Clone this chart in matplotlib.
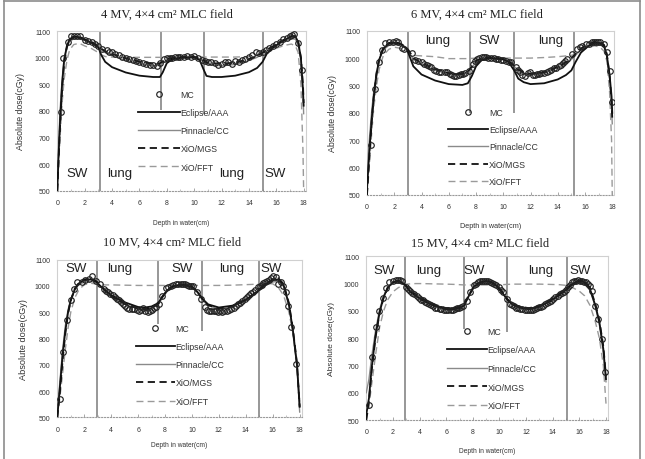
import matplotlib
matplotlib.use("Agg")
import matplotlib.pyplot as plt
from matplotlib.lines import Line2D
from matplotlib.ticker import MultipleLocator

# ---------------- data ----------------
titles = ["4 MV, 4×4 cm² MLC field", "6 MV, 4×4 cm² MLC field",
          "10 MV, 4×4 cm² MLC field", "15 MV, 4×4 cm² MLC field"]
series_labels = ["MC", "Eclipse/AAA", "Pinnacle/CC", "XiO/MGS", "XiO/FFT"]
x_ticks = [0, 2, 4, 6, 8, 10, 12, 14, 16, 18]
y_ticks = [500, 600, 700, 800, 900, 1000, 1100]

# 4 MV
d4 = [0, 0.1, 0.2, 0.35, 0.5, 0.7, 0.9, 1.2, 1.6, 2.0, 2.5, 3.0, 3.2, 3.5, 4.0, 5.0, 6.0, 7.0, 7.5, 7.7,
      8.0, 8.4, 9.0, 10.0, 10.4, 10.7, 10.9, 11.3, 12.0, 13.0, 14.0, 14.6, 15.0, 15.3, 15.7, 16.2, 16.7,
      17.1, 17.4, 17.6, 17.8, 17.95, 18.0]
aaa4 = [500, 640, 760, 900, 990, 1045, 1070, 1080, 1078, 1068, 1057, 1040, 1012, 985, 965, 945, 933, 928,
        928, 945, 980, 995, 1000, 1002, 992, 955, 932, 928, 928, 933, 946, 962, 985, 1015, 1035, 1055, 1070,
        1080, 1080, 1060, 1000, 880, 820]
cc4 = [520, 680, 800, 920, 1000, 1040, 1062, 1072, 1072, 1065, 1055, 1040, 1030, 1020, 1008, 990, 978, 970,
       972, 980, 992, 998, 1000, 1002, 996, 985, 978, 974, 970, 975, 990, 1002, 1015, 1025, 1038, 1052, 1065,
       1072, 1070, 1050, 990, 870, 790]
mgs4 = [500, 620, 740, 880, 980, 1040, 1068, 1080, 1080, 1070, 1060, 1045, 1035, 1025, 1015, 998, 985, 978,
        980, 986, 995, 1000, 1003, 1004, 999, 990, 984, 980, 978, 982, 995, 1008, 1020, 1030, 1042, 1058, 1072,
        1082, 1082, 1062, 1000, 900, 830]
fft4 = [500, 600, 700, 830, 920, 990, 1030, 1050, 1055, 1045, 1035, 1020, 1012, 1005, 1003, 1002, 1002, 1002,
        1002, 1003, 1004, 1005, 1005, 1005, 1004, 1003, 1003, 1003, 1003, 1003, 1005, 1008, 1012, 1020, 1030,
        1040, 1048, 1052, 1045, 1020, 900, 650, 500]
mc4_x = [0.27, 0.43, 0.75, 1.0, 1.2, 1.45, 1.64, 2.0, 2.25, 2.5, 2.75, 3.0, 3.3, 3.6, 3.8, 4.0, 4.25, 4.5,
         4.75, 5.0, 5.25, 5.5, 5.75, 6.0, 6.25, 6.5, 6.75, 7.0, 7.25, 7.5, 7.8, 8.0, 8.2, 8.4, 8.6, 8.8, 9.0,
         9.25, 9.5, 9.75, 10.0, 10.3, 10.6, 10.8, 11.0, 11.25, 11.5, 11.75, 12.0, 12.25, 12.5, 12.75, 13.0,
         13.25, 13.5, 13.75, 14.0, 14.25, 14.5, 14.75, 15.0, 15.25, 15.5, 15.75, 16.0, 16.25, 16.5, 16.75,
         17.0, 17.15, 17.3, 17.6, 17.9]
mc4_y = [795, 998, 1060, 1084, 1084, 1084, 1081, 1069, 1065, 1059, 1052, 1046, 1033, 1030, 1022, 1021, 1015,
         1011, 1003, 1001, 995, 993, 987, 983, 980, 977, 975, 973, 970, 980, 996, 998, 1001, 1000, 1002, 1003,
         1002, 1004, 1006, 1003, 1006, 998, 992, 988, 986, 984, 980, 975, 976, 985, 983, 978, 990, 985, 992,
         995, 1002, 1010, 1021, 1018, 1023, 1030, 1036, 1045, 1052, 1060, 1071, 1076, 1084, 1087, 1089, 1055,
         956]

# 6 MV
d6 = [0, 0.1, 0.2, 0.35, 0.5, 0.7, 0.9, 1.2, 1.6, 2.0, 2.5, 2.9, 3.1, 3.4, 4.0, 5.0, 6.0, 7.0, 7.4, 7.7, 8.0,
      8.4, 9.0, 10.0, 10.4, 10.8, 11.1, 11.5, 12.0, 13.0, 14.0, 14.6, 15.0, 15.3, 15.7, 16.2, 16.7, 17.1, 17.4,
      17.6, 17.8, 17.95, 18.0]
aaa6 = [520, 600, 680, 780, 860, 940, 995, 1035, 1052, 1056, 1050, 1035, 1010, 970, 940, 918, 905, 902, 908,
        935, 970, 992, 1000, 995, 985, 955, 925, 912, 905, 908, 922, 938, 955, 985, 1020, 1042, 1056, 1055,
        1045, 1010, 940, 860, 800]
cc6 = [560, 650, 720, 810, 880, 950, 995, 1030, 1046, 1050, 1045, 1035, 1020, 995, 975, 955, 942, 940, 948,
       965, 985, 997, 1000, 995, 988, 970, 955, 945, 940, 945, 965, 980, 995, 1010, 1030, 1045, 1052, 1050,
       1040, 1010, 930, 820, 760]
mgs6 = [500, 580, 660, 770, 860, 945, 1000, 1038, 1055, 1060, 1052, 1038, 1025, 1000, 982, 960, 945, 942, 950,
        970, 990, 1000, 1003, 997, 990, 972, 958, 948, 943, 948, 968, 985, 1000, 1015, 1035, 1050, 1060, 1058,
        1048, 1015, 940, 840, 780]
fft6 = [500, 560, 630, 730, 820, 900, 960, 1010, 1032, 1040, 1035, 1025, 1018, 1010, 1008, 1005, 998, 998,
        998, 999, 1000, 1000, 1000, 1000, 1000, 1000, 1000, 1000, 1000, 1002, 1005, 1008, 1010, 1015, 1025,
        1038, 1045, 1040, 1025, 990, 880, 700, 500]
mc6_x = [0.29, 0.6, 0.85, 1.09, 1.33, 1.58, 1.94, 2.1, 2.26, 2.55, 2.75, 3.28, 3.5, 3.76, 4.0, 4.2, 4.37,
         4.55, 4.7, 4.9, 5.1, 5.3, 5.46, 5.7, 5.9, 6.1, 6.24, 6.4, 6.55, 6.75, 6.9, 7.05, 7.2, 7.45, 7.77, 7.95,
         8.08, 8.25, 8.42, 8.6, 8.74, 8.9, 9.1, 9.3, 9.47, 9.65, 9.83, 10.0, 10.2, 10.4, 10.56, 10.9, 11.1,
         11.24, 11.4, 11.58, 11.8, 11.97, 12.15, 12.3, 12.45, 12.6, 12.8, 12.99, 13.2, 13.35, 13.5, 13.7, 13.9,
         14.1, 14.25, 14.4, 14.55, 14.7, 15.05, 15.4, 15.6, 15.8, 16.1, 16.3, 16.5, 16.65, 16.8, 16.95, 17.1,
         17.4, 17.6, 17.8, 18.0]
mc6_y = [684, 887, 984, 1031, 1054, 1060, 1060, 1062, 1057, 1035, 1033, 1017, 994, 990, 984, 978, 976, 970,
         966, 958, 954, 950, 950, 948, 948, 942, 938, 935, 936, 940, 942, 943, 945, 954, 978, 990, 997, 1000,
         1004, 1003, 1005, 1002, 1001, 1002, 997, 995, 993, 992, 990, 985, 984, 966, 955, 950, 940, 933, 945,
         948, 940, 938, 942, 942, 945, 945, 950, 954, 958, 962, 965, 972, 975, 981, 988, 997, 1015, 1033, 1040,
         1045, 1053, 1052, 1057, 1060, 1060, 1058, 1057, 1051, 1021, 954, 841]

# 10 MV
d10 = [0, 0.2, 0.4, 0.6, 0.8, 1.0, 1.3, 1.6, 2.0, 2.5, 2.9, 3.2, 3.6, 4.0, 5.0, 6.0, 6.5, 7.0, 7.5, 7.8, 8.2,
       8.6, 9.0, 9.5, 10.0, 10.4, 10.8, 11.2, 12.0, 13.0, 14.0, 14.5, 15.0, 15.5, 16.0, 16.4, 16.8, 17.2, 17.5,
       17.8, 18.0]
aaa10 = [500, 620, 740, 830, 900, 945, 988, 1010, 1022, 1025, 1015, 1000, 982, 965, 938, 920, 918, 922, 935,
         960, 985, 998, 1004, 1004, 996, 978, 950, 930, 918, 925, 948, 965, 985, 1008, 1022, 1025, 1005, 930,
         830, 700, 540]
cc10 = [520, 640, 760, 850, 910, 950, 985, 1005, 1015, 1018, 1010, 998, 978, 960, 930, 912, 910, 915, 928,
        955, 982, 996, 1002, 1002, 994, 975, 945, 925, 912, 920, 945, 962, 982, 1003, 1015, 1018, 998, 925, 820,
        690, 520]
mgs10 = [500, 600, 720, 820, 895, 945, 990, 1012, 1025, 1028, 1018, 1002, 980, 962, 932, 914, 912, 918, 932,
         958, 986, 1000, 1006, 1006, 998, 978, 948, 927, 914, 922, 947, 966, 988, 1010, 1026, 1030, 1008, 935,
         835, 705, 540]
fft10 = [500, 580, 670, 760, 840, 900, 955, 985, 1005, 1010, 1008, 1005, 1004, 1004, 1003, 1002, 1002, 1002,
         1002, 1002, 1002, 1002, 1002, 1002, 1002, 1002, 1002, 1002, 1002, 1003, 1005, 1006, 1008, 1010, 1008,
         995, 965, 900, 820, 700, 560]
mc10_x = [0.2, 0.44, 0.69, 1.0, 1.23, 1.5, 1.8, 2.04, 2.36, 2.6, 2.9, 3.14, 3.44, 3.6, 3.76, 3.95, 4.13, 4.3,
          4.42, 4.6, 4.76, 4.9, 5.06, 5.2, 5.35, 5.55, 5.72, 5.9, 6.09, 6.25, 6.38, 6.55, 6.7, 6.85, 7.02, 7.15,
          7.32, 7.56, 7.8, 8.05, 8.25, 8.42, 8.6, 8.79, 9.0, 9.16, 9.3, 9.48, 9.6, 9.77, 9.93, 10.1, 10.4, 10.7,
          11.0, 11.15, 11.3, 11.45, 11.6, 11.75, 11.93, 12.1, 12.23, 12.4, 12.6, 12.75, 12.9, 13.1, 13.26, 13.4,
          13.58, 13.75, 13.95, 14.1, 14.24, 14.4, 14.56, 14.7, 14.88, 15.05, 15.18, 15.3, 15.42, 15.6, 15.72,
          15.9, 16.04, 16.23, 16.4, 16.6, 16.77, 16.97, 17.14, 17.34, 17.7]
mc10_y = [570, 747, 872, 947, 988, 1014, 1014, 1023, 1026, 1039, 1020, 1007, 988, 982, 976, 970, 966, 958,
          950, 945, 938, 932, 925, 918, 912, 912, 912, 910, 906, 908, 915, 905, 902, 905, 910, 915, 919, 931,
          963, 991, 995, 1001, 1005, 1007, 1006, 1007, 1008, 1007, 1004, 1001, 1000, 999, 976, 950, 919, 910,
          906, 905, 906, 903, 902, 905, 900, 903, 906, 908, 912, 918, 925, 930, 935, 942, 950, 958, 966, 972,
          978, 985, 995, 1000, 1004, 1010, 1014, 1020, 1024, 1030, 1039, 1033, 1007, 1014, 1001, 978, 925, 845,
          703]

# 15 MV
d15 = [0, 0.2, 0.4, 0.7, 1.0, 1.3, 1.6, 2.0, 2.4, 2.8, 3.0, 3.3, 3.7, 4.2, 5.0, 6.0, 6.6, 7.0, 7.35, 7.7, 8.1,
       8.6, 9.0, 9.4, 9.8, 10.2, 10.6, 11.0, 11.5, 12.2, 13.0, 13.8, 14.5, 15.1, 15.5, 16.0, 16.4, 16.8, 17.2,
       17.5, 17.8, 18.0]
aaa15 = [520, 580, 690, 810, 895, 950, 985, 1005, 1012, 1000, 990, 970, 955, 940, 920, 906, 906, 910, 920,
         955, 990, 1005, 1010, 1005, 992, 968, 940, 922, 912, 906, 915, 935, 958, 980, 1000, 1010, 1005, 980,
         920, 860, 760, 650]
cc15 = [600, 650, 730, 830, 905, 955, 985, 1002, 1008, 998, 988, 972, 958, 943, 922, 908, 908, 912, 922, 955,
        988, 1003, 1007, 1003, 990, 966, 940, 924, 914, 908, 917, 937, 960, 982, 998, 1005, 1000, 975, 915, 850,
        750, 640]
mgs15 = [500, 570, 680, 805, 892, 948, 983, 1003, 1010, 1000, 992, 974, 960, 946, 925, 910, 910, 914, 924,
         958, 992, 1006, 1010, 1006, 994, 970, 943, 926, 916, 910, 918, 938, 962, 985, 1002, 1012, 1008, 985,
         925, 865, 770, 660]
fft15 = [500, 550, 630, 740, 840, 900, 940, 970, 985, 995, 998, 999, 1000, 1000, 999, 998, 997, 996, 995, 995,
         995, 995, 995, 995, 995, 996, 997, 998, 998, 998, 998, 997, 996, 993, 985, 972, 955, 920, 860, 800,
         700, 560]
mc15_x = [0.17, 0.42, 0.72, 0.97, 1.22, 1.46, 1.74, 2.04, 2.2, 2.36, 2.5, 2.66, 2.95, 3.15, 3.3, 3.45, 3.6,
          3.77, 3.95, 4.1, 4.25, 4.39, 4.55, 4.72, 4.85, 5.0, 5.17, 5.34, 5.5, 5.64, 5.82, 6.0, 6.17, 6.33, 6.48,
          6.63, 6.78, 6.93, 7.1, 7.25, 7.55, 7.8, 8.07, 8.22, 8.37, 8.52, 8.66, 8.82, 8.99, 9.15, 9.31, 9.46,
          9.61, 9.77, 9.93, 10.08, 10.23, 10.53, 10.8, 10.95, 11.1, 11.25, 11.4, 11.56, 11.72, 11.88, 12.04,
          12.19, 12.34, 12.5, 12.64, 12.8, 12.96, 13.12, 13.28, 13.43, 13.58, 13.73, 13.88, 14.04, 14.2, 14.36,
          14.52, 14.67, 14.82, 14.97, 15.12, 15.28, 15.44, 15.6, 15.76, 15.91, 16.06, 16.21, 16.36, 16.52,
          16.68, 16.8, 16.93, 17.18, 17.43, 17.68, 17.92]
mc15_y = [555, 732, 840, 901, 946, 983, 1005, 1011, 1012, 1014, 1012, 1011, 986, 980, 972, 966, 960, 956,
          948, 941, 938, 934, 930, 925, 920, 917, 912, 909, 907, 907, 905, 904, 903, 904, 905, 907, 909, 911,
          915, 919, 937, 968, 995, 1000, 1005, 1008, 1011, 1010, 1011, 1008, 1005, 1002, 999, 993, 986, 978,
          968, 944, 925, 920, 917, 912, 909, 908, 907, 905, 904, 904, 904, 905, 907, 910, 913, 916, 919, 924,
          929, 933, 937, 944, 950, 956, 962, 965, 968, 978, 986, 996, 1005, 1008, 1011, 1012, 1011, 1009, 1007,
          1004, 999, 990, 974, 919, 870, 797, 675]

# slab interfaces (cm) and lower end of each interface line (cGy)
iface4, iface4_bot = [3.1, 7.6, 10.7, 15.0], [500, 805, 790, 500]
iface6, iface6_bot = [3.0, 7.55, 10.8, 15.2], [500, 800, 800, 500]
iface10, iface10_bot = [2.95, 7.5, 10.75, 15.0], [500, 855, 830, 500]
iface15, iface15_bot = [2.9, 7.35, 10.55, 15.05], [500, 834, 824, 500]

regions4 = ["SW", "lung", "lung", "SW"]
regions4_x, regions4_y = [1.45, 4.55, 12.75, 15.9], [567, 567, 567, 567]
regions6 = ["lung", "SW", "lung"]
regions6_x, regions6_y = [5.2, 8.97, 13.45], [1067, 1067, 1067]
regions10 = ["SW", "lung", "SW", "lung", "SW"]
regions10_x, regions10_y = [1.43, 4.67, 9.28, 12.96, 15.9], [1067, 1067, 1067, 1067, 1067]
regions15 = ["SW", "lung", "SW", "lung", "SW"]
regions15_x, regions15_y = [1.37, 4.69, 8.12, 13.13, 16.06], [1051, 1051, 1051, 1051, 1051]

# ---------------- layout (pixels of a 645x460 canvas) ----------------
W, H = 645, 460
panels = [
    dict(box=(57.3, 32.3, 305.7, 191.7), title_xy=(166.7, 14.5), data=(d4, aaa4, cc4, mgs4, fft4, mc4_x, mc4_y),
         iface=(iface4, iface4_bot), reg=(regions4, regions4_x, regions4_y), leg=(5.87, 726, 1.05, 4.8),
         ylab=-32, xlab=-28, xfs=4.8, yfs=6.3),
    dict(box=(367.0, 31.7, 614.3, 196.0), title_xy=(477.0, 14.5), data=(d6, aaa6, cc6, mgs6, fft6, mc6_x, mc6_y),
         iface=(iface6, iface6_bot), reg=(regions6, regions6_x, regions6_y), leg=(5.95, 676, 0.95, 4.6),
         ylab=-30, xlab=-27, xfs=5.2, yfs=6.3),
    dict(box=(57.3, 260.7, 301.7, 418.3), title_xy=(171.7, 242.7), data=(d10, aaa10, cc10, mgs10, fft10, mc10_x, mc10_y),
         iface=(iface10, iface10_bot), reg=(regions10, regions10_x, regions10_y), leg=(5.85, 700, 1.05, 4.4),
         ylab=-29, xlab=-24, xfs=4.8, yfs=6.6),
    dict(box=(366.3, 257.3, 608.0, 421.0), title_xy=(480.3, 243.3), data=(d15, aaa15, cc15, mgs15, fft15, mc15_x, mc15_y),
         iface=(iface15, iface15_bot), reg=(regions15, regions15_x, regions15_y), leg=(6.08, 689, 1.1, 4.5),
         ylab=-31, xlab=-27, xfs=4.8, yfs=6.0),
]

plt.rcParams['font.family'] = ['Liberation Sans', 'DejaVu Sans']
fig = plt.figure(figsize=(W / 100, H / 100), dpi=100)
fig.patch.set_facecolor('white')

for i, p in enumerate(panels):
    x0, y0, x1, y1 = p['box']
    ax = fig.add_axes([x0 / W, 1 - y1 / H, (x1 - x0) / W, (y1 - y0) / H])
    d, aaa, cc, mgs, fft, mcx, mcy = p['data']
    h_mc, = ax.plot(mcx, mcy, ls='none', marker='o', ms=4.0, mfc='none', mec='#222222', mew=0.85, label=series_labels[0], zorder=5)
    h_aaa, = ax.plot(d, aaa, color='#111111', lw=1.3, label=series_labels[1], zorder=4)
    h_cc, = ax.plot(d, cc, color='#8a8a8a', lw=1.0, label=series_labels[2], zorder=3)
    h_mgs, = ax.plot(d, mgs, color='#111111', lw=1.3, ls=(0, (4, 2.5)), label=series_labels[3], zorder=4)
    h_fft, = ax.plot(d, fft, color='#9a9a9a', lw=1.0, ls=(0, (5, 3)), label=series_labels[4], zorder=3)

    ifx, ifb = p['iface']
    ax.vlines(ifx, ifb, 1100, colors='#7a7a7a', lw=1.1, zorder=2)

    names, rx, ry = p['reg']
    for n, xx, yy in zip(names, rx, ry):
        ax.text(xx, yy, n, ha='center', va='center', fontsize=9.5, color='#222222')

    lx, ly, lsp, hl = p['leg']
    ax.legend(handles=[h_mc, h_aaa, h_cc, h_mgs, h_fft], loc='center left', bbox_to_anchor=(lx, ly),
              bbox_transform=ax.transData, frameon=False, fontsize=6.3, labelspacing=lsp,
              handlelength=hl, handletextpad=0.1, borderpad=0, borderaxespad=0, labelcolor='#333333')

    ax.set_xlim(0, 18.15)
    ax.set_ylim(500, 1100)
    ax.set_xticks(x_ticks)
    ax.set_yticks(y_ticks)
    ax.xaxis.set_minor_locator(MultipleLocator(1))
    ax.tick_params(axis='both', which='major', labelsize=5, labelcolor='#333333', color='#999999',
                   direction='in', length=2, width=0.6)
    ax.tick_params(axis='x', which='major', pad=6)
    ax.tick_params(axis='y', which='major', pad=5, length=0)
    ax.tick_params(axis='x', which='minor', direction='in', length=1.2, color='#aaaaaa', width=0.5)
    for s in ['top', 'right', 'left']:
        ax.spines[s].set_color('#d0d0d0')
        ax.spines[s].set_linewidth(0.8)
    ax.spines['bottom'].set_color('#9a9a9a')
    ax.spines['bottom'].set_linestyle(':')
    ax.spines['bottom'].set_linewidth(0.8)
    ax.set_xlabel("Depth in water(cm)", fontsize=p['xfs'], color='#333333')
    ax.set_ylabel("Absolute dose(cGy)", fontsize=p['yfs'], color='#333333')
    wpx, hpx = x1 - x0, y1 - y0
    ax.yaxis.set_label_coords(p['ylab'] / wpx, 0.5)
    ax.xaxis.set_label_coords(0.5, p['xlab'] / hpx)

    tx, ty = p['title_xy']
    fig.text(tx / W, 1 - ty / H, titles[i], ha='center', va='center', fontsize=9,
             family=['Liberation Serif', 'DejaVu Serif'], color='#222222')

# outer frame (left, top, right)
fc = '#8c8c8c'
fig.add_artist(Line2D([4 / W, 4 / W], [0, 1 - 2 / H], color=fc, lw=1.2))
fig.add_artist(Line2D([4 / W, 640 / W], [1 - 2 / H, 1 - 2 / H], color=fc, lw=1.2))
fig.add_artist(Line2D([640 / W, 640 / W], [0, 1 - 2 / H], color=fc, lw=1.2))

fig.savefig("out.png", dpi=100, facecolor='white')
